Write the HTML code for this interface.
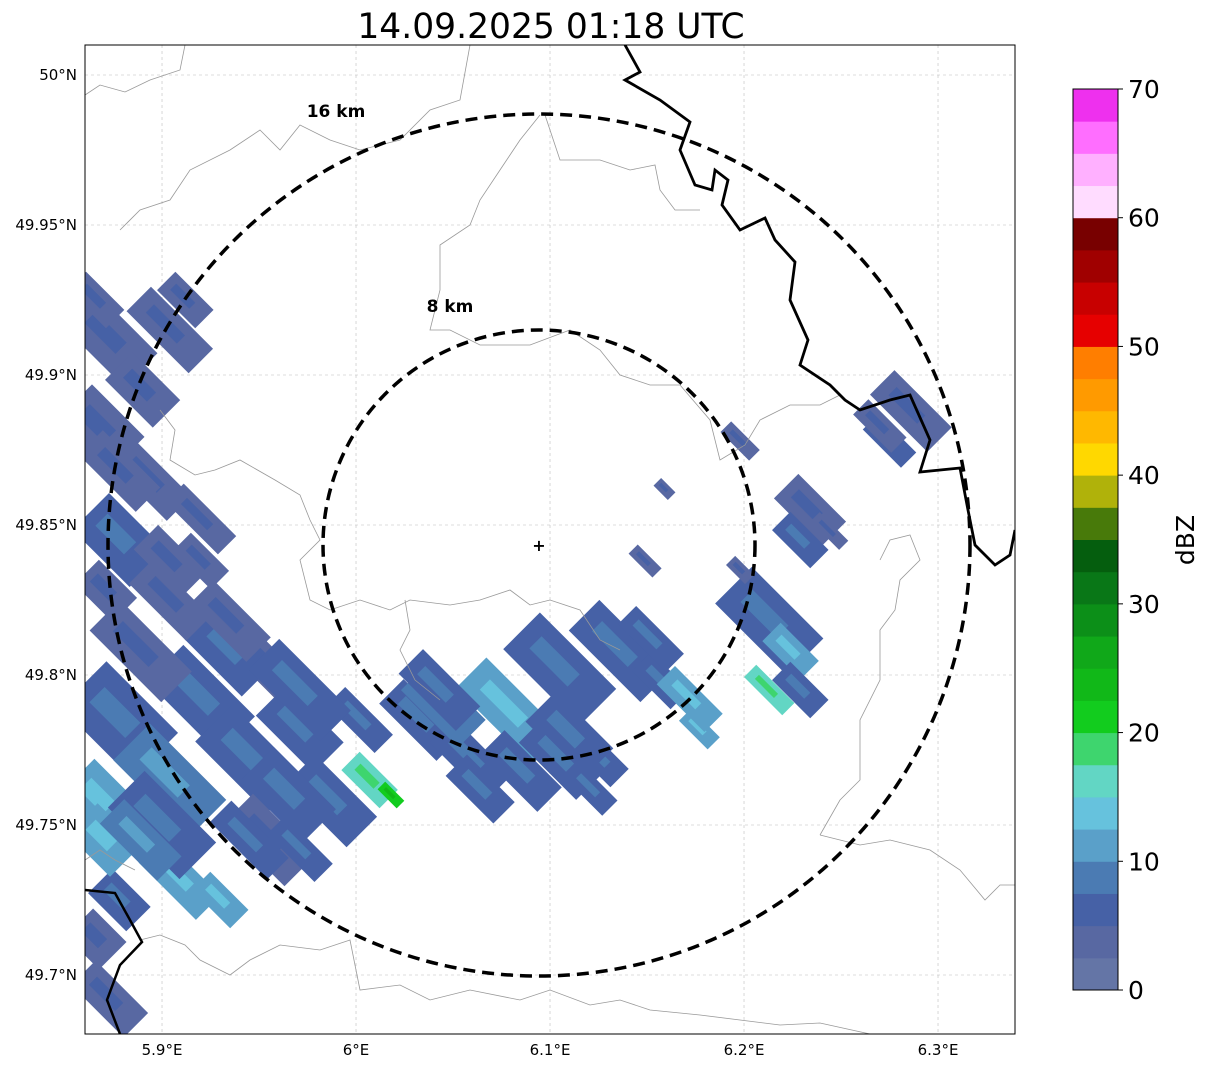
<!DOCTYPE html>
<html><head><meta charset="utf-8">
<style>
html,body{margin:0;padding:0;background:#fff;}
svg{display:block;font-family:"DejaVu Sans","Liberation Sans",sans-serif;}
</style></head>
<body>
<svg id="chart" width="1207" height="1069" viewBox="0 0 1207 1069">
<defs><clipPath id="plotclip"><rect x="85" y="45" width="930" height="989"/></clipPath></defs>
<text x="551" y="38" font-size="34.5" text-anchor="middle" fill="#000">14.09.2025 01:18 UTC</text>
<g id="grid"></g>
<g id="echoes" clip-path="url(#plotclip)"></g>
<g clip-path="url(#plotclip)" fill="none">
<path d="M85,95 L100,85 L125,92 L150,80 L180,70 L185,45" stroke="#999" stroke-width="0.8"/>
<path d="M470,45 L460,100 L430,110 L400,140 L360,150 L330,140 L300,125 L280,150 L260,130 L230,150 L190,170 L170,200 L140,210 L120,230" stroke="#999" stroke-width="0.8"/>
<path d="M540,115 L520,140 L500,170 L480,200 L470,225 L440,245 L440,290 L430,330 L450,330 L480,345 L530,345 L570,330 L600,350 L620,375 L650,385 L680,385 L710,420 L720,460 L745,445 L760,420 L790,405 L820,405 L840,395" stroke="#999" stroke-width="0.8"/>
<path d="M545,115 L560,160 L600,160 L630,170 L655,165 L660,190 L675,210 L700,210" stroke="#999" stroke-width="0.8"/>
<path d="M160,410 L175,430 L170,460 L195,475 L215,470 L240,460 L275,480 L300,495 L310,520 L320,540 L300,560 L310,600 L330,610 L360,600 L390,610 L410,600 L450,605 L480,600 L510,590 L530,605 L550,600 L580,610 L600,640 L620,650" stroke="#999" stroke-width="0.8"/>
<path d="M405,600 L410,630 L400,650 L415,680 L440,700" stroke="#999" stroke-width="0.8"/>
<path d="M85,860 L100,850 L115,860 L135,870" stroke="#999" stroke-width="0.8"/>
<path d="M140,940 L160,935 L185,945 L200,960 L230,975 L250,960 L280,945 L320,950 L350,940 L360,990 L400,985 L430,1000 L470,990 L520,1000 L550,990 L590,1005 L620,1000 L650,1010 L700,1015 L740,1020 L780,1025 L820,1023 L870,1034" stroke="#999" stroke-width="0.8"/>
<path d="M820,835 L860,845 L890,840 L930,850 L960,870 L985,900 L1000,885 L1015,885" stroke="#999" stroke-width="0.8"/>
<path d="M880,560 L890,540 L910,535 L920,560 L900,580 L895,610 L880,630 L880,680 L860,720 L860,780 L840,800 L820,835" stroke="#999" stroke-width="0.8"/>
<path d="M625,45 L640,72 L625,80 L660,100 L690,122 L680,150 L695,185 L712,190 L715,170 L728,180 L722,205 L740,230 L765,218 L775,240 L795,262 L790,300 L808,340 L800,365 L830,385 L845,400 L860,410 L890,400 L910,395 L930,440 L920,472 L960,468 L968,510 L975,545 L995,565 L1010,555 L1015,530" stroke="#000" stroke-width="2.8"/>
<path d="M85,890 L115,893 L130,920 L142,942 L120,965 L107,1000 L120,1034" stroke="#000" stroke-width="2.5"/>
</g>
<g fill="none" stroke="#000" stroke-width="3.5" stroke-dasharray="12,7">
<ellipse cx="539" cy="545" rx="431" ry="431"/>
<ellipse cx="539" cy="545" rx="216" ry="215"/>
</g>
<text x="336" y="117" font-size="17" font-weight="bold" text-anchor="middle">16 km</text>
<text x="450" y="312" font-size="17" font-weight="bold" text-anchor="middle">8 km</text>
<text x="539" y="551" font-size="16" font-weight="bold" text-anchor="middle">+</text>
<rect x="85" y="45" width="930" height="989" fill="none" stroke="#000" stroke-width="1"/>
<g id="ticks"></g>
<g id="cbar"></g>
<text transform="translate(1194,540) rotate(-90)" font-size="25" text-anchor="middle">dBZ</text>
</svg>
<script>
const lonTicks=[5.9,6.0,6.1,6.2,6.3];
const lonLabels=["5.9°E","6°E","6.1°E","6.2°E","6.3°E"];
const latTicks=[50.0,49.95,49.9,49.85,49.8,49.75,49.7];
const latLabels=["50°N","49.95°N","49.9°N","49.85°N","49.8°N","49.75°N","49.7°N"];
const cbColors=["#6475a6","#5868a2","#4661a6","#4b7bb3","#5aa0c9","#66c2dd","#62d6c4","#3ed56e","#12cc1e","#11b818","#10a819","#0c8f18","#097717","#055e0e","#487a0a","#b0b20a","#ffd800","#ffb800","#ff9a00","#ff7e00","#e60000","#c80000","#a00000","#780000","#ffdcff","#ffb0ff","#ff6eff","#ee30ee"];
const cbTicks=[0,10,20,30,40,50,60,70];
// echo patches
const echoLon=[5.873,5.904,5.912,5.868,5.894,5.920,5.878,5.904,5.871,5.878,5.920,5.951,5.904,5.868,5.945,5.971,5.987,6.007,6.018,6.002,6.033,6.059,6.079,6.105,6.136,6.157,6.177,6.085,6.126,5.909,5.930,5.878,5.873,5.866,6.213,6.224,6.213,6.234,6.229,6.286,6.275,6.198,6.159,6.149,6.198,5.890,5.935,5.965,6.045,6.110,5.900,5.870,5.955,
 5.889,5.935,5.971,6.043,6.064,6.105,6.121,6.152,6.172,5.889,5.945,5.971,5.904,5.878,5.920,5.866,6.229,6.244,6.270];
const echoLat=[49.912,49.915,49.925,49.882,49.865,49.852,49.845,49.838,49.828,49.785,49.792,49.805,49.765,49.758,49.772,49.782,49.758,49.765,49.760,49.785,49.785,49.772,49.788,49.802,49.808,49.798,49.782,49.768,49.772,49.732,49.725,49.725,49.692,49.712,49.818,49.808,49.795,49.855,49.845,49.888,49.878,49.878,49.862,49.838,49.835,49.895,49.808,49.760,49.790,49.780,49.750,49.745,49.745,
 49.808,49.818,49.795,49.795,49.762,49.772,49.762,49.812,49.792,49.745,49.745,49.742,49.825,49.868,49.838,49.925,49.795,49.848,49.883];
const echoLen=[2.6,2.6,1.6,2.2,2.4,2.2,2.4,2.0,1.6,3.0,3.0,2.4,3.2,2.0,3.0,2.4,2.6,1.6,0.8,2.0,2.4,2.4,3.2,3.2,3.0,1.6,1.2,2.4,1.6,2.4,1.6,1.6,2.2,1.4,3.0,1.6,1.6,2.0,1.6,2.4,1.6,1.2,0.6,1.0,0.8,2.0,2.4,2.6,2.4,2.4,3.0,1.8,2.6,
 3.0,2.4,3.0,2.4,2.0,2.4,1.6,2.0,2.0,2.4,2.4,2.0,2.4,2.4,1.6,1.6,1.6,1.2,1.6];
const echoWid=[2.2,1.6,1.2,2.4,1.6,1.2,2.4,1.6,1.6,3.0,2.4,1.6,2.4,2.4,2.4,2.0,2.0,1.2,0.5,1.2,1.6,1.6,2.0,2.4,2.0,1.2,0.8,1.6,1.2,1.6,1.2,1.6,1.6,1.8,2.4,1.2,0.8,1.6,1.2,1.6,1.0,0.7,0.5,0.6,0.6,1.8,2.2,2.2,1.8,2.0,2.4,2.0,2.0,
 2.0,1.6,2.0,1.6,1.4,1.6,1.0,1.2,1.2,1.6,1.4,1.2,1.6,1.6,1.2,1.2,1.2,0.6,1.0];
const echoDbz=[3,3,3,3,4,3,5,3,3,5,5,3,8,12,5,5,5,15,22,5,5,5,10,5,5,5,12,5,5,10,12,5,3,3,5,12,15,3,5,4,5,3,3,3,3,3,5,6,8,6,6,11,4,
 3,3,5,5,5,5,5,5,10,8,5,5,3,3,3,3,5,3,3];

const NS='http://www.w3.org/2000/svg';
const lon0=5.8603, lonScale=1940, lat0=50.0, latScale=3000, kmPx=27;
function xS(lon){return 85+(lon-lon0)*lonScale;}
function yS(lat){return 75+(lat0-lat)*latScale;}
function cbY(v){return 990-(v/70)*901;}
function colorFor(d){return cbColors[Math.max(0,Math.min(27,Math.floor(d/2.5)))];}

const grid=document.getElementById('grid');
const ticks=document.getElementById('ticks');
lonTicks.forEach((t,i)=>{
  const x=xS(t);
  const l=document.createElementNS(NS,'line');
  l.setAttribute('x1',x);l.setAttribute('x2',x);l.setAttribute('y1',45);l.setAttribute('y2',1034);
  l.setAttribute('stroke','#bbb');l.setAttribute('stroke-width','0.6');l.setAttribute('stroke-dasharray','3,3');
  
  
  grid.appendChild(l);
  const tx=document.createElementNS(NS,'text');
  tx.setAttribute('x',x);tx.setAttribute('y',1055);tx.setAttribute('font-size','15');tx.setAttribute('text-anchor','middle');
  tx.textContent=lonLabels[i];
  
  
  ticks.appendChild(tx);
});
latTicks.forEach((t,i)=>{
  const y=yS(t);
  const l=document.createElementNS(NS,'line');
  l.setAttribute('x1',85);l.setAttribute('x2',1015);l.setAttribute('y1',y);l.setAttribute('y2',y);
  l.setAttribute('stroke','#bbb');l.setAttribute('stroke-width','0.6');l.setAttribute('stroke-dasharray','3,3');
  
  
  grid.appendChild(l);
  const tx=document.createElementNS(NS,'text');
  tx.setAttribute('x',77);tx.setAttribute('y',y+5);tx.setAttribute('font-size','15');tx.setAttribute('text-anchor','end');
  tx.textContent=latLabels[i];
  
  
  ticks.appendChild(tx);
});

const echoes=document.getElementById('echoes');
echoLon.forEach((lon,i)=>{
  const cx=xS(lon), cy=yS(echoLat[i]);
  const L=echoLen[i]*kmPx*1.25, W=echoWid[i]*kmPx*0.8;
  const r=document.createElementNS(NS,'rect');
  r.setAttribute('x',cx-L/2);r.setAttribute('y',cy-W/2);r.setAttribute('width',L);r.setAttribute('height',W);
  r.setAttribute('fill',colorFor(echoDbz[i]));
  r.setAttribute('transform','rotate(45 '+cx+' '+cy+')');
  
  
  echoes.appendChild(r);
  const r2=document.createElementNS(NS,'rect');
  r2.setAttribute('x',cx-L/3);r2.setAttribute('y',cy-W/5);r2.setAttribute('width',L/2);r2.setAttribute('height',W/3);
  r2.setAttribute('fill',colorFor(echoDbz[i]+2.5));
  r2.setAttribute('transform','rotate(45 '+cx+' '+cy+')');
  
  
  echoes.appendChild(r2);
});

const cbar=document.getElementById('cbar');
cbColors.forEach((c,i)=>{
  const y1=cbY((i+1)*2.5), y0=cbY(i*2.5);
  const r=document.createElementNS(NS,'rect');
  r.setAttribute('x',1073);r.setAttribute('y',y1);r.setAttribute('width',45);r.setAttribute('height',y0-y1+0.5);
  r.setAttribute('fill',c);
  
  
  cbar.appendChild(r);
});
const frame=document.createElementNS(NS,'rect');
frame.setAttribute('x',1073);frame.setAttribute('y',cbY(70));frame.setAttribute('width',45);frame.setAttribute('height',901);
frame.setAttribute('fill','none');frame.setAttribute('stroke','#000');frame.setAttribute('stroke-width','1');


cbar.appendChild(frame);
cbTicks.forEach(t=>{
  const y=cbY(t);
  const l=document.createElementNS(NS,'line');
  l.setAttribute('x1',1118);l.setAttribute('x2',1123);l.setAttribute('y1',y);l.setAttribute('y2',y);l.setAttribute('stroke','#000');
  
  
  cbar.appendChild(l);
  const tx=document.createElementNS(NS,'text');
  tx.setAttribute('x',1128);tx.setAttribute('y',y+9);tx.setAttribute('font-size','25');
  tx.textContent=t;
  
  
  cbar.appendChild(tx);
});
</script>
</body></html>
